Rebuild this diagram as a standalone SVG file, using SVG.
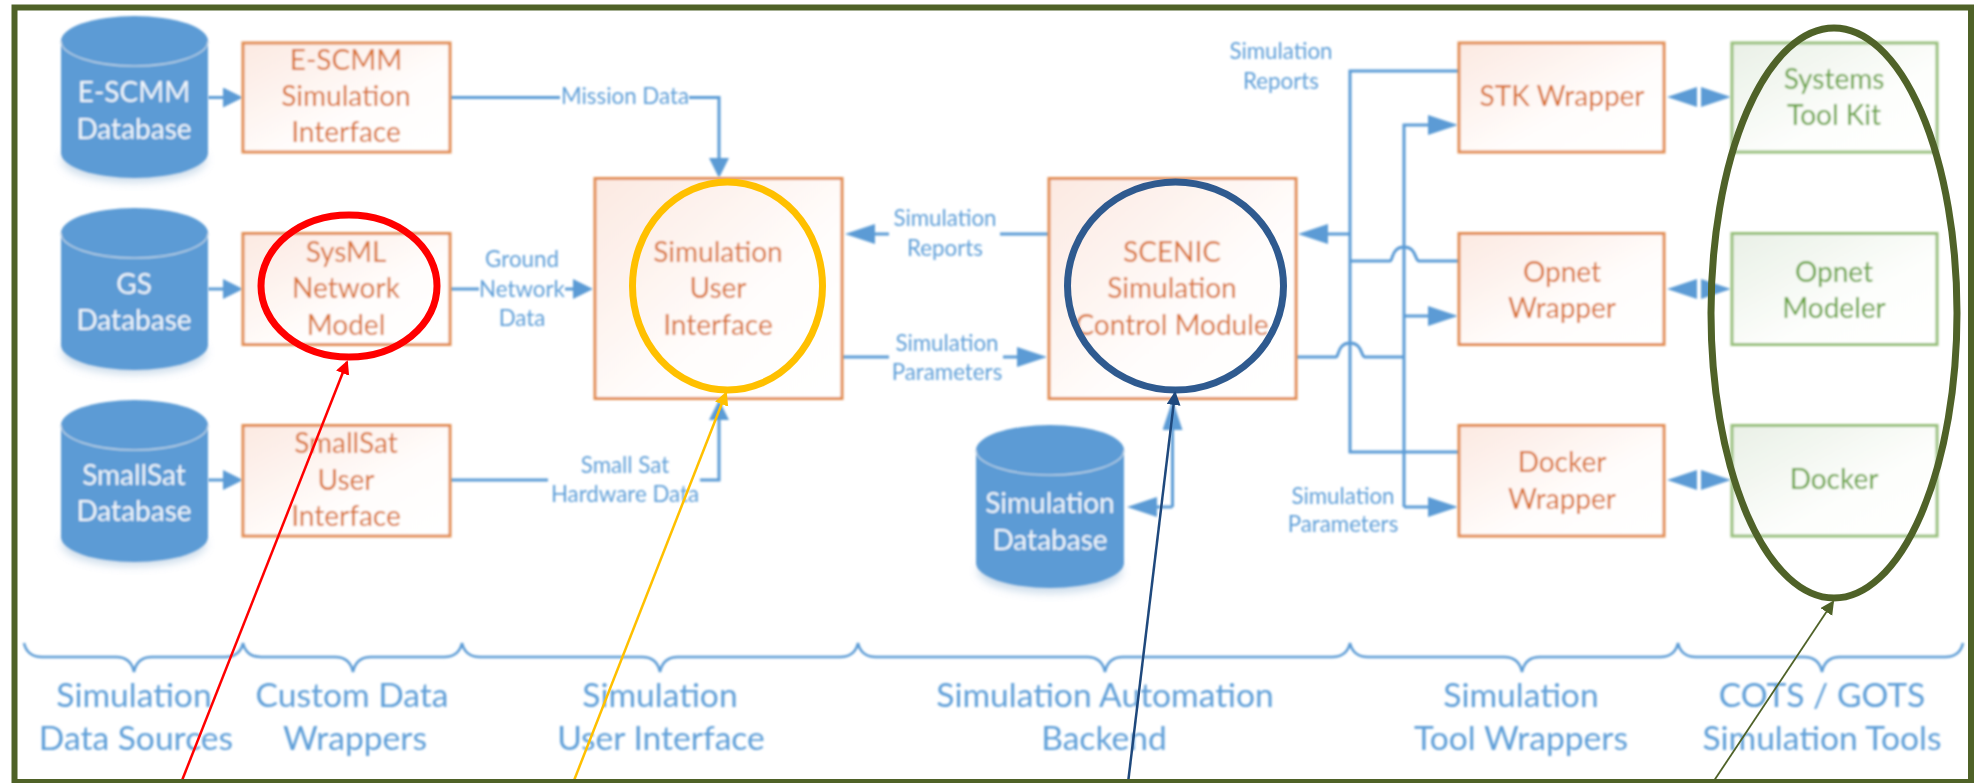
<svg xmlns="http://www.w3.org/2000/svg" width="1977" height="783" viewBox="0 0 1977 783">
<style>
text{font-family:"Lato","Carlito","Liberation Sans",sans-serif;text-anchor:middle}
.node{filter:url(#soft)}
.box{fill:url(#og);stroke:#e28d52;stroke-width:3}
.gbox{fill:url(#gg);stroke:#98c07c;stroke-width:3}
.t{font-size:28px;fill:#d9722f}
.gt{font-size:28px;fill:#66a33c}
.ct{font-size:28px;fill:#f0f6fb}
.cyl{fill:#5b9bd5}
.rim{fill:none;stroke:#b9d0e4;stroke-width:1.5}
.shadow{fill:#9dbcd8;opacity:.55;filter:url(#sh)}
.lbl{font-size:22.3px;fill:#5f9fd8}
.blbl{font-size:33.6px;fill:#5f9fd8}
.c{fill:none;stroke:#5b9bd5;stroke-width:3}
.a20{marker-end:url(#h20)}
.a30{marker-end:url(#h30)}
.ring{fill:none;stroke-width:7}
</style>
<defs>
<linearGradient id="og" x1="0" y1="0" x2="1" y2="1"><stop offset="0" stop-color="#fce9e1"/><stop offset=".6" stop-color="#fffdfc"/><stop offset="1" stop-color="#ffffff"/></linearGradient>
<linearGradient id="gg" x1="0" y1="0" x2="1" y2="1"><stop offset="0" stop-color="#e9f0e6"/><stop offset=".6" stop-color="#fdfefc"/><stop offset="1" stop-color="#ffffff"/></linearGradient>
<filter id="soft" x="-5%" y="-5%" width="110%" height="110%"><feGaussianBlur stdDeviation="0.9"/></filter>
<filter id="sh" x="-20%" y="-50%" width="140%" height="200%"><feGaussianBlur stdDeviation="4"/></filter>
<marker id="h20" markerUnits="userSpaceOnUse" markerWidth="22" markerHeight="22" refX="14" refY="10" orient="auto"><path d="M0 0L20 10L0 20Z" fill="#5b9bd5"/></marker>
<marker id="h30" markerUnits="userSpaceOnUse" markerWidth="32" markerHeight="22" refX="24" refY="10" orient="auto"><path d="M0 0L30 10L0 20Z" fill="#5b9bd5"/></marker>
<marker id="hr" markerUnits="userSpaceOnUse" markerWidth="14" markerHeight="16" refX="12" refY="7" orient="auto"><path d="M0 0L14 7L0 14Z" fill="#ff0000"/></marker>
<marker id="hy" markerUnits="userSpaceOnUse" markerWidth="14" markerHeight="16" refX="12" refY="7" orient="auto"><path d="M0 0L14 7L0 14Z" fill="#ffc000"/></marker>
<marker id="hb" markerUnits="userSpaceOnUse" markerWidth="14" markerHeight="16" refX="12" refY="7" orient="auto"><path d="M0 0L14 7L0 14Z" fill="#1f497d"/></marker>
<marker id="hg" markerUnits="userSpaceOnUse" markerWidth="14" markerHeight="16" refX="12" refY="7" orient="auto"><path d="M0 0L14 7L0 14Z" fill="#4f6228"/></marker>
</defs>
<rect width="1977" height="783" fill="#ffffff"/>

<g id="connectors" style="filter:url(#soft)">
<path class="c a20" d="M208 97.5H237"/>
<path class="c a20" d="M208 289H237"/>
<path class="c a20" d="M208 480H237"/>
<path class="c" d="M450 97.5H560"/>
<path class="c a20" d="M689 97.5H719V172"/>
<path class="c" d="M450 289H479"/>
<path class="c a20" d="M565 289H587"/>
<path class="c" d="M450 480H548"/>
<path class="c a20" d="M700 480H719V406"/>
<path class="c" d="M1049 234H1000"/>
<path class="c a30" d="M889 234H851"/>
<path class="c" d="M842 357H889"/>
<path class="c a30" d="M1003 357H1041"/>
<path class="c a30" d="M1172.500 507V406"/>
<path class="c a30" d="M1172.500 507H1133"/>
<path class="c" d="M1460 71H1350V452H1460"/>
<path class="c a30" d="M1350 234H1304"/>
<path class="c" d="M1350 261H1390C1392 261 1392 254 1396 250C1400 246 1408 246 1412 250C1416 254 1416 261 1419 261H1460"/>
<path class="c" d="M1296 357H1336C1338 357 1338 350 1342 346C1346 342 1354 342 1358 346C1362 350 1362 357 1365 357H1404"/>
<path class="c a30" d="M1404 507V125H1452"/>
<path class="c a30" d="M1404 316H1452"/>
<path class="c a30" d="M1404 507H1452"/>
<path class="c a30" d="M1697 97H1673"/><path class="c a30" d="M1701 97H1725"/>
<path class="c a30" d="M1697 289H1673"/><path class="c a30" d="M1701 289H1725"/>
<path class="c a30" d="M1697 480H1673"/><path class="c a30" d="M1701 480H1725"/>
<path class="c" style="stroke-width:2.500" d="M24 643C26 652 32 657 42 657H116C126 657 132 662 134 672C136 662 142 657 152 657H225C235 657 241 652 243 643C245 652 251 657 261 657H335C345 657 351 662 353 672C355 662 361 657 371 657H444C454 657 460 652 462 643C464 652 470 657 480 657H642C652 657 658 662 660 672C662 662 668 657 678 657H840C850 657 856 652 858 643C860 652 866 657 876 657H1087C1097 657 1103 662 1105 672C1107 662 1113 657 1123 657H1332C1342 657 1348 652 1350 643C1352 652 1358 657 1368 657H1504C1514 657 1520 662 1522 672C1524 662 1530 657 1540 657H1660C1670 657 1676 652 1678 643C1680 652 1686 657 1696 657H1804C1814 657 1820 662 1822 672C1824 662 1830 657 1840 657H1945C1955 657 1961 652 1963 643"/>
</g>

<g id="db-escmm" class="node"><ellipse class="shadow" cx="134" cy="160" rx="72" ry="22"/><path class="cyl" d="M61 41A73.500 25 0 0 1 208 41V153A73.500 25 0 0 1 61 153Z"/><path class="rim" d="M61 41A73.500 25 0 0 0 208 41"/><text class="ct" x="134" y="102">E-SCMM</text><text class="ct" x="134" y="139">Database</text></g>
<g id="db-gs" class="node"><ellipse class="shadow" cx="134" cy="352" rx="72" ry="22"/><path class="cyl" d="M61 233A73.500 25 0 0 1 208 233V345A73.500 25 0 0 1 61 345Z"/><path class="rim" d="M61 233A73.500 25 0 0 0 208 233"/><text class="ct" x="134" y="294">GS</text><text class="ct" x="134" y="330">Database</text></g>
<g id="db-smallsat" class="node"><ellipse class="shadow" cx="134" cy="544" rx="72" ry="22"/><path class="cyl" d="M61 425A73.500 25 0 0 1 208 425V537A73.500 25 0 0 1 61 537Z"/><path class="rim" d="M61 425A73.500 25 0 0 0 208 425"/><text class="ct" x="134" y="485">SmallSat</text><text class="ct" x="134" y="521">Database</text></g>
<g id="db-simulation" class="node"><ellipse class="shadow" cx="1050" cy="571" rx="72" ry="22"/><path class="cyl" d="M976 450A74 25 0 0 1 1124 450V563A74 25 0 0 1 976 563Z"/><path class="rim" d="M976 450A74 25 0 0 0 1124 450"/><text class="ct" x="1050" y="513">Simulation</text><text class="ct" x="1050" y="550">Database</text></g>

<g id="escmm-interface" class="node"><rect class="box" x="243" y="43" width="207" height="109"/><text class="t" x="346" y="70">E-SCMM</text><text class="t" x="346" y="106">Simulation</text><text class="t" x="346" y="142">Interface</text></g>
<g id="sysml-model" class="node"><rect class="box" x="243" y="233.500" width="207" height="111"/><text class="t" x="346" y="262">SysML</text><text class="t" x="346" y="298">Network</text><text class="t" x="346" y="335">Model</text></g>
<g id="smallsat-interface" class="node"><rect class="box" x="243" y="425.500" width="207" height="110.500"/><text class="t" x="346" y="453">SmallSat</text><text class="t" x="346" y="490">User</text><text class="t" x="346" y="526">Interface</text></g>
<g id="sim-ui" class="node"><rect class="box" x="595" y="178.500" width="247" height="220"/><text class="t" x="718" y="262">Simulation</text><text class="t" x="718" y="298">User</text><text class="t" x="718" y="335">Interface</text></g>
<g id="scenic" class="node"><rect class="box" x="1049" y="178.500" width="247" height="220"/><text class="t" x="1172" y="262">SCENIC</text><text class="t" x="1172" y="298">Simulation</text><text class="t" x="1172" y="335">Control Module</text></g>
<g id="stk-wrapper" class="node"><rect class="box" x="1459" y="43" width="205" height="109"/><text class="t" x="1562" y="106">STK Wrapper</text></g>
<g id="opnet-wrapper" class="node"><rect class="box" x="1459" y="233.500" width="205" height="111"/><text class="t" x="1562" y="282">Opnet</text><text class="t" x="1562" y="318">Wrapper</text></g>
<g id="docker-wrapper" class="node"><rect class="box" x="1459" y="425.500" width="205" height="110.500"/><text class="t" x="1562" y="472">Docker</text><text class="t" x="1562" y="509">Wrapper</text></g>
<g id="systems-tool-kit" class="node"><rect class="gbox" x="1732" y="43" width="205" height="109"/><text class="gt" x="1834" y="89">Systems</text><text class="gt" x="1834" y="125">Tool Kit</text></g>
<g id="opnet-modeler" class="node"><rect class="gbox" x="1732" y="233.500" width="205" height="111"/><text class="gt" x="1834" y="282">Opnet</text><text class="gt" x="1834" y="318">Modeler</text></g>
<g id="docker" class="node"><rect class="gbox" x="1732" y="425.500" width="205" height="110.500"/><text class="gt" x="1834" y="489">Docker</text></g>

<g id="connector-labels" style="filter:url(#soft)">
<text class="lbl" x="625" y="104">Mission Data</text>
<text class="lbl" x="522" y="267">Ground</text><text class="lbl" x="522" y="297">Network</text><text class="lbl" x="522" y="326">Data</text>
<text class="lbl" x="625" y="473">Small Sat</text><text class="lbl" x="625" y="502">Hardware Data</text>
<text class="lbl" x="945" y="226">Simulation</text><text class="lbl" x="945" y="256">Reports</text>
<text class="lbl" x="947" y="351">Simulation</text><text class="lbl" x="947" y="380">Parameters</text>
<text class="lbl" x="1281" y="59">Simulation</text><text class="lbl" x="1281" y="89">Reports</text>
<text class="lbl" x="1343" y="504">Simulation</text><text class="lbl" x="1343" y="532">Parameters</text>
</g>
<g id="brace-labels" style="filter:url(#soft)">
<text class="blbl" x="134" y="707">Simulation</text><text class="blbl" x="136" y="750">Data Sources</text>
<text class="blbl" x="352" y="707">Custom Data</text><text class="blbl" x="355" y="750">Wrappers</text>
<text class="blbl" x="660" y="707">Simulation</text><text class="blbl" x="661" y="750">User Interface</text>
<text class="blbl" x="1105" y="707">Simulation Automation</text><text class="blbl" x="1104" y="750">Backend</text>
<text class="blbl" x="1521" y="707">Simulation</text><text class="blbl" x="1521" y="750">Tool Wrappers</text>
<text class="blbl" x="1822" y="707">COTS / GOTS</text><text class="blbl" x="1822" y="750">Simulation Tools</text>
</g>

<g id="highlights">
<ellipse class="ring" cx="349" cy="286" rx="88" ry="71" stroke="#ff0000"/>
<ellipse class="ring" cx="727.500" cy="286" rx="95" ry="104" stroke="#ffc000"/>
<ellipse class="ring" cx="1175.500" cy="286" rx="108" ry="104" stroke="#2f5a8f"/>
<ellipse class="ring" cx="1834" cy="313" rx="123" ry="285" stroke="#4f6228"/>
</g>
<g id="leaders" fill="none">
<path d="M181 783L347 362" stroke="#ff0000" stroke-width="2.500" marker-end="url(#hr)"/>
<path d="M573 783L726 393" stroke="#ffc000" stroke-width="2.500" marker-end="url(#hy)"/>
<path d="M1128 783L1175 393" stroke="#1f497d" stroke-width="2.500" marker-end="url(#hb)"/>
<path d="M1712.500 783L1833 602" stroke="#4f6228" stroke-width="1.800" marker-end="url(#hg)"/>
</g>
<rect id="frame" x="14.500" y="7.500" width="1956.500" height="774.500" fill="none" stroke="#4f6228" stroke-width="6"/>
</svg>
